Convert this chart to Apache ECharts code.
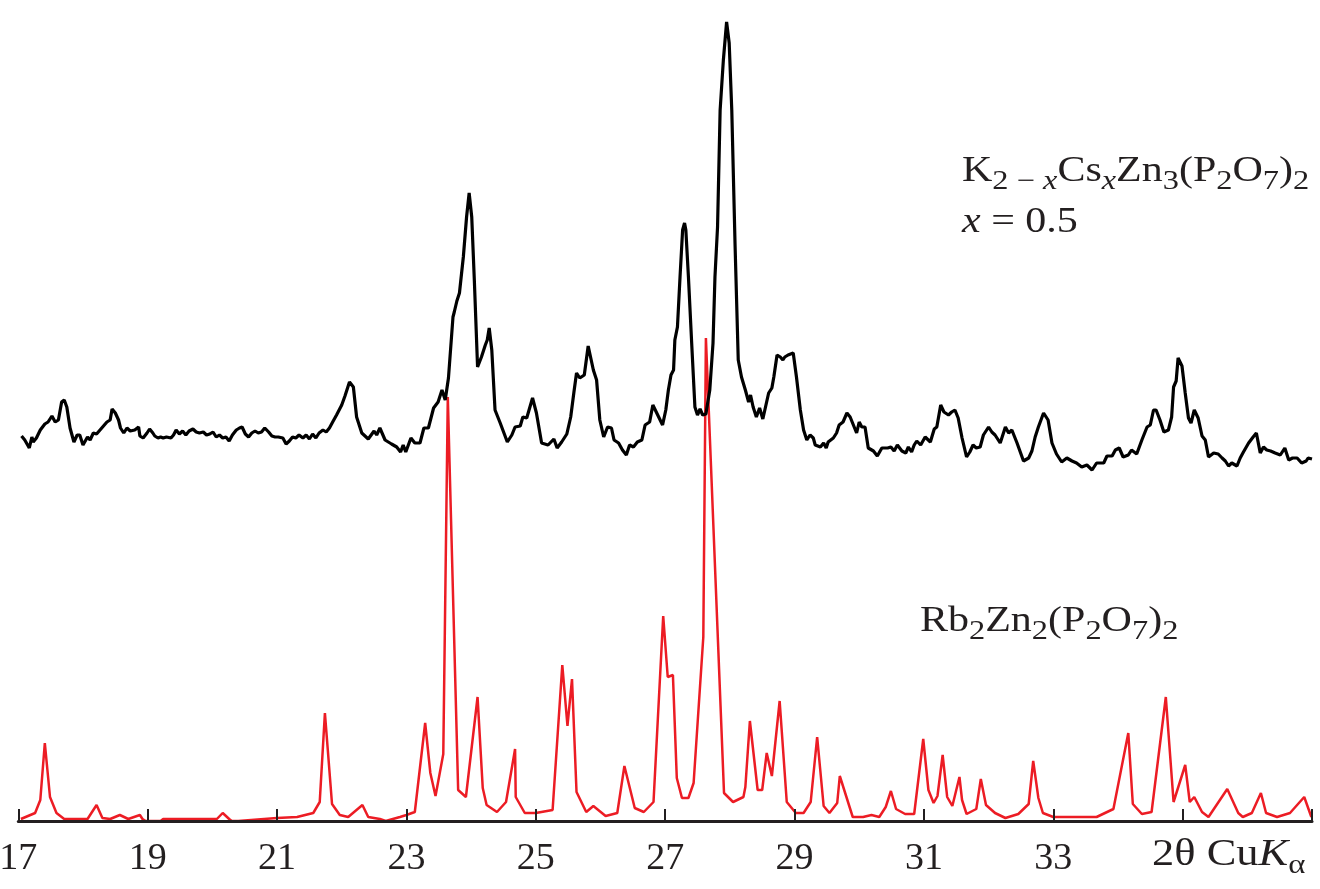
<!DOCTYPE html>
<html>
<head>
<meta charset="utf-8">
<title>XRD</title>
<script src="https://cdn.jsdelivr.net/npm/echarts@6/dist/echarts.min.js"></script>
<style>
  html, body { margin: 0; padding: 0; background: #fff; }
  #xrd { width: 1320px; height: 889px; }
</style>
</head>
<body>
<div id="xrd"></div>
<script>
// 2θ (deg) vs intensity (arb. units)
var sampleProfile = [
  [17.05,385],[17.10,381],[17.17,373],[17.21,384],[17.23,379],[17.28,383],[17.34,391],[17.41,397],[17.46,399],[17.52,405],
  [17.57,399],[17.62,401],[17.67,419],[17.71,421],[17.75,414],[17.80,393],[17.86,379],[17.91,386],[17.95,386],[18.00,376],
  [18.07,384],[18.11,381],[18.16,388],[18.21,387],[18.29,393],[18.37,399],[18.42,401],[18.45,412],[18.50,408],[18.55,401],
  [18.58,393],[18.63,388],[18.68,393],[18.73,390],[18.80,391],[18.86,394],
  [18.88,385],[18.93,383],[18.99,388],[19.03,392],[19.08,388],[19.11,385],[19.16,383],[19.20,384],[19.24,383],[19.29,384],
  [19.36,383],[19.40,386],[19.44,391],[19.49,387],[19.54,390],[19.59,386],[19.64,390],[19.70,392],[19.75,389],[19.80,388],
  [19.86,389],[19.91,386],[19.96,387],[20.01,389],[20.06,384],[20.11,386],[20.16,383],[20.21,384],[20.26,380],[20.31,386],
  [20.37,391],[20.42,393],[20.46,394],[20.51,387],[20.56,384],[20.61,388],[20.66,390],[20.71,388],[20.76,389],[20.81,393],
  [20.87,389],[20.92,385],[20.97,384],[21.02,384],[21.09,383],[21.14,377],[21.19,380],[21.24,384],[21.29,383],[21.34,386],
  [21.40,383],[21.45,386],[21.50,382],[21.55,387],[21.60,383],[21.65,388],[21.71,391],[21.76,389],[21.81,393],[21.86,399],
  [21.92,406],[22.00,416],[22.05,425],[22.12,439],[22.18,434],
  [22.23,404],[22.31,388],[22.41,382],[22.50,390],[22.54,386],[22.59,393],[22.67,381],[22.77,377],[22.85,374],[22.91,369],
  [22.95,376],[22.99,369],[23.07,383],[23.13,378],[23.21,378],[23.27,393],[23.34,393],[23.42,413],[23.49,419],[23.55,431],
  [23.60,421],[23.65,443],[23.72,504],[23.74,509],[23.78,520],[23.82,528],[23.88,564],[23.93,604],[23.97,628],[24.01,604],
  [24.05,541],[24.10,454],[24.16,464],[24.22,476],[24.25,481],[24.28,493],[24.32,471],[24.37,411],[24.45,398],[24.56,379],
  [24.63,386],[24.68,394],[24.76,395],[24.80,404],[24.86,403],[24.95,423],[25.01,408],[25.09,378],[25.19,376],[25.28,382],
  [25.33,373],[25.40,379],[25.48,387],[25.54,404],[25.59,429],[25.63,448],[25.68,443],[25.75,446],[25.81,475],[25.89,451],
  [25.94,441],[25.99,401],[26.05,384],[26.11,394],[26.17,393],[26.21,381],[26.28,378],[26.34,371],[26.40,366],[26.45,376],
  [26.51,374],[26.57,379],[26.64,381],[26.69,396],[26.76,399],[26.81,416],[26.84,418],[26.90,404],[26.96,396],[27.01,411],
  [27.05,431],[27.09,446],[27.13,451],[27.15,481],[27.19,494],[27.23,544],[27.27,591],[27.30,598],[27.32,591],[27.36,544],
  [27.41,478],[27.46,414],[27.50,406],[27.54,412],[27.58,406],[27.63,407],[27.69,431],[27.74,478],[27.77,544],[27.81,594],
  [27.85,711],[27.90,761],[27.95,799],[27.99,778],[28.03,711],[28.08,578],[28.13,461],[28.18,444],[28.24,431],[28.29,419],
  [28.32,426],[28.36,414],[28.41,404],[28.46,413],[28.51,402],[28.54,403],[28.60,428],[28.65,433],[28.68,444],[28.73,466],
  [28.78,464],[28.82,461],[28.85,464],[28.90,466],[28.98,468],[29.03,444],[29.09,411],[29.14,391],[29.19,381],[29.24,386],
  [29.29,383],[29.32,376],[29.40,374],[29.45,378],[29.49,373],[29.52,379],[29.60,383],[29.65,388],[29.69,396],[29.75,399],
  [29.81,408],[29.86,404],[29.91,396],[29.96,388],[30.00,399],[30.04,394],[30.09,394],[30.14,373],[30.22,370],[30.28,365],
  [30.35,373],[30.44,373],[30.49,374],[30.54,370],[30.59,376],[30.66,370],[30.72,368],[30.76,374],[30.81,369],[30.85,376],
  [30.89,380],[30.95,376],[31.02,384],[31.10,379],[31.16,392],[31.20,394],[31.26,416],[31.31,409],[31.38,406],[31.43,409],
  [31.48,411],[31.53,403],[31.59,383],[31.66,364],[31.71,369],[31.76,376],[31.81,373],[31.87,374],[31.92,386],[32.00,394],
  [32.05,389],[32.10,386],[32.18,378],[32.26,394],[32.31,388],[32.36,391],[32.44,378],[32.49,369],[32.54,360],[32.62,363],
  [32.67,370],[32.72,384],[32.77,394],[32.85,408],[32.92,401],[32.98,378],[33.05,367],[33.13,359],[33.21,363],[33.29,360],
  [33.36,358],[33.44,354],[33.52,356],[33.60,351],[33.67,358],[33.78,358],[33.83,365],[33.91,365],[33.96,371],[34.02,373],
  [34.08,364],[34.16,366],[34.21,371],[34.29,367],[34.37,381],[34.45,394],[34.50,396],[34.55,411],[34.59,411],[34.65,401],
  [34.71,389],[34.78,391],[34.83,404],[34.86,434],[34.90,440],[34.93,463],[34.99,455],[35.04,428],[35.09,403],[35.13,398],
  [35.18,411],[35.24,403],[35.30,385],[35.35,381],[35.40,364],[35.48,368],[35.55,367],[35.61,363],[35.66,360],[35.71,355],
  [35.76,358],[35.84,355],[35.89,363],[35.94,369],[36.02,378],[36.09,384],[36.14,388],[36.20,368],[36.25,374],[36.30,371],
  [36.36,370],[36.43,368],[36.51,366],[36.58,373],[36.64,361],[36.70,363],[36.77,363],[36.84,358],[36.91,360],[36.94,363],
  [37.00,362]
];

var refProfile = [
  [17.04,2],[17.26,8],[17.34,21],[17.41,78],[17.49,24],[17.59,8],[17.71,2],[18.07,2],[18.21,16],[18.30,3],
  [18.42,2],[18.57,6],[18.70,2],[18.88,6],[18.92,2],[18.97,0],[19.20,0],[19.24,2],[20.07,2],[20.16,8],
  [20.26,2],[20.30,0],[20.40,0],[20.43,1],[21.00,3],[21.31,4],[21.56,8],[21.66,19],[21.74,108],[21.85,17],
  [21.97,6],[22.10,4],[22.32,16],[22.41,4],[22.59,2],[22.62,0],[22.68,0],[22.70,2],[22.90,4],[23.00,6],
  [23.13,9],[23.29,98],[23.37,48],[23.45,25],[23.57,67],[23.64,424],[23.80,31],[23.92,24],[24.10,124],[24.18,33],
  [24.24,16],[24.40,9],[24.54,19],[24.68,72],[24.69,24],[24.83,8],[25.00,8],[25.26,11],[25.41,156],[25.49,95],
  [25.56,142],[25.63,29],[25.78,9],[25.89,15],[26.08,5],[26.26,8],[26.37,55],[26.53,13],[26.67,9],[26.82,19],
  [26.97,205],[27.04,144],[27.12,146],[27.18,43],[27.26,23],[27.36,23],[27.44,38],[27.59,184],[27.63,483],[27.91,28],
  [28.05,19],[28.21,24],[28.24,34],[28.31,100],[28.43,31],[28.50,31],[28.57,68],[28.65,45],[28.77,120],[28.88,19],
  [29.02,8],[29.14,8],[29.25,19],[29.35,84],[29.45,15],[29.54,8],[29.66,18],[29.70,45],[29.90,4],[30.06,4],
  [30.19,6],[30.31,4],[30.41,14],[30.49,30],[30.57,12],[30.71,7],[30.85,7],[30.99,82],[31.07,31],[31.15,18],
  [31.21,25],[31.29,66],[31.36,24],[31.44,15],[31.55,44],[31.59,21],[31.66,7],[31.81,12],[31.88,42],[31.96,16],
  [32.10,8],[32.26,3],[32.46,7],[32.62,17],[32.69,60],[32.77,23],[32.84,8],[33.00,4],[33.67,4],[33.93,12],
  [34.16,88],[34.23,17],[34.37,7],[34.52,9],[34.74,124],[34.86,19],[35.04,56],[35.11,19],[35.18,24],[35.30,9],
  [35.40,4],[35.69,32],[35.86,8],[35.93,4],[36.07,8],[36.21,28],[36.29,8],[36.46,4],[36.66,8],[36.88,24],
  [36.99,4]
];

var labelledTicks = [17, 19, 21, 23, 25, 27, 29, 31, 33];

var serif = 'Liberation Serif, Times New Roman, serif';
var ink = '#231f20';

// rich-text styles: n = normal, i = italic, s = subscript (pushed down by top padding)
function formulaStyles(size, subSize) {
  var base = { fontFamily: serif, fontSize: size, lineHeight: size + 5, fill: ink };
  return {
    n: base,
    i: Object.assign({}, base, { fontStyle: 'italic' }),
    s: { fontFamily: serif, fontSize: subSize, lineHeight: subSize, padding: [20, 0, 0, 0], fill: ink },
    si: { fontFamily: serif, fontSize: subSize, lineHeight: subSize, padding: [20, 0, 0, 0], fontStyle: 'italic', fill: ink }
  };
}

var chart = echarts.init(document.getElementById('xrd'));
var option = {
  animation: false,
  grid: { left: 18.3, right: 8, top: 0, bottom: 68, outerBoundsMode: 'none' },
  xAxis: {
    type: 'value',
    min: 17,
    max: 37,
    interval: 2,
    z: 5,
    axisLine: { lineStyle: { color: ink, width: 3 } },
    axisTick: { inside: true, length: 12, lineStyle: { color: ink, width: 2 } },
    splitLine: { show: false },
    axisLabel: {
      margin: 19,
      color: ink,
      fontFamily: serif,
      fontSize: 38,
      formatter: function (v) {
        return labelledTicks.indexOf(v) >= 0 ? String(v) : '';
      }
    }
  },
  yAxis: {
    type: 'value',
    min: 0,
    max: 821,
    show: false,
    splitLine: { show: false }
  },
  series: [
    {
      name: 'Rb2Zn2(P2O7)2',
      type: 'line',
      data: refProfile,
      symbol: 'none',
      lineStyle: { color: '#ec1c24', width: 2.5 }
    },
    {
      name: 'K1.5Cs0.5Zn3(P2O7)2',
      type: 'line',
      data: sampleProfile,
      symbol: 'none',
      lineStyle: { color: '#000', width: 3.2 }
    }
  ],
  graphic: [
    {
      type: 'text', x: 962, y: 152, scaleX: 1.2,
      style: {
        align: 'left', verticalAlign: 'top',
        text: '{n|K}{s|2 − }{si|x}{n|Cs}{si|x}{n|Zn}{s|3}{n|(P}{s|2}{n|O}{s|7}{n|)}{s|2}',
        rich: formulaStyles(35, 27)
      }
    },
    {
      type: 'text', x: 962, y: 203, scaleX: 1.2,
      style: {
        align: 'left', verticalAlign: 'top',
        text: '{i|x}{n| = 0.5}',
        rich: formulaStyles(35, 27)
      }
    },
    {
      type: 'text', x: 920, y: 602, scaleX: 1.2,
      style: {
        align: 'left', verticalAlign: 'top',
        text: '{n|Rb}{s|2}{n|Zn}{s|2}{n|(P}{s|2}{n|O}{s|7}{n|)}{s|2}',
        rich: formulaStyles(35, 27)
      }
    },
    {
      type: 'text', x: 1152, y: 834, scaleX: 1.17,
      style: {
        align: 'left', verticalAlign: 'top',
        text: '{n|2θ Cu}{i|K}{s|α}',
        rich: formulaStyles(38, 28)
      }
    }
  ]
};
chart.setOption(option);
</script>
</body>
</html>
